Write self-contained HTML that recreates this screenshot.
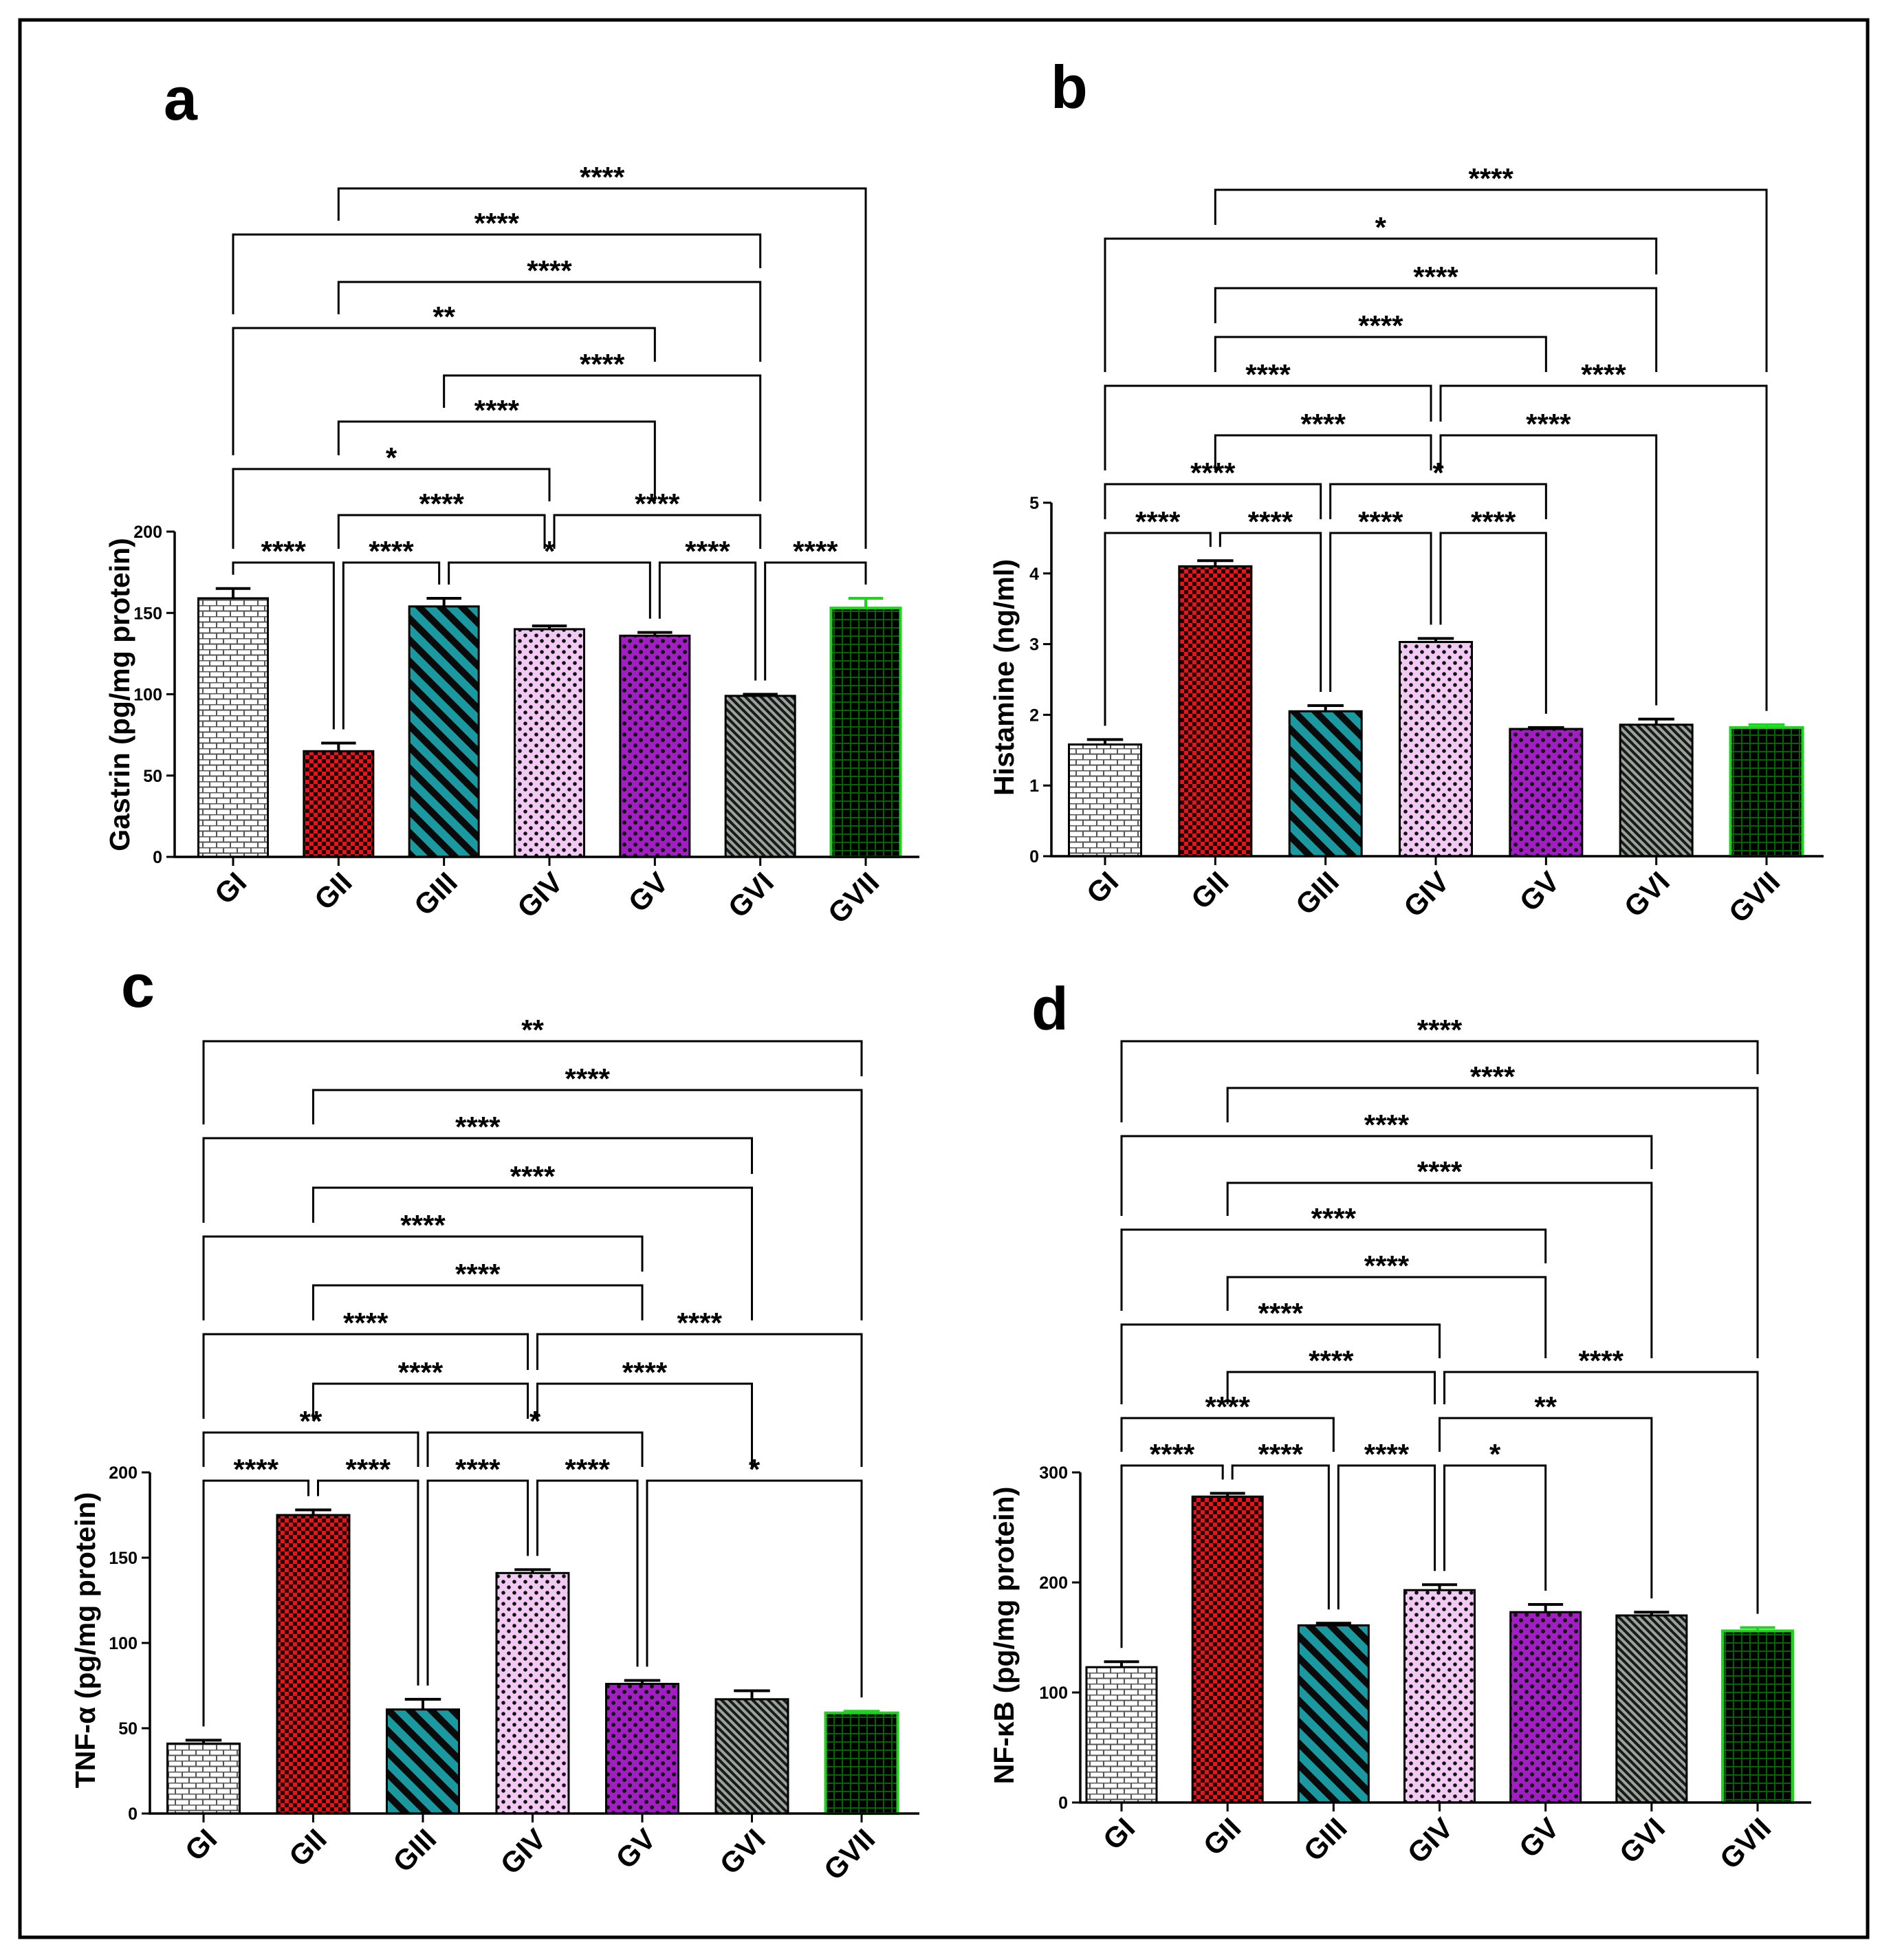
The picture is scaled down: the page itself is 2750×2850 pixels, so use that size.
<!DOCTYPE html>
<html><head><meta charset="utf-8"><style>
html,body{margin:0;padding:0;background:#fff}
svg{display:block}
text{font-family:"Liberation Sans",Arial,sans-serif;font-weight:bold;fill:#000}
</style></head><body>
<svg id="fig" xmlns="http://www.w3.org/2000/svg" width="2750" height="2850" viewBox="0 0 2750 2850">
<defs>
<pattern id="pGI" patternUnits="userSpaceOnUse" width="20" height="16"><rect width="20" height="16" fill="#fff"/><path d="M0 0.5H20M0 8.5H20M5 0V8M15 8V16" stroke="#555" stroke-width="2"/></pattern>
<pattern id="pGII" patternUnits="userSpaceOnUse" width="12" height="12"><rect width="12" height="12" fill="#e8141a"/><rect width="6" height="6" fill="#200"/><rect x="6" y="6" width="6" height="6" fill="#200"/></pattern>
<pattern id="pGIII" patternUnits="userSpaceOnUse" width="22" height="22" patternTransform="rotate(-45)"><rect width="22" height="22" fill="#1a9aa0"/><rect width="10" height="22" fill="#0a0a0a"/></pattern>
<pattern id="pGIV" patternUnits="userSpaceOnUse" width="16" height="16"><rect width="16" height="16" fill="#f2c9f2"/><circle cx="4" cy="4" r="2.8" fill="#111"/><circle cx="12" cy="12" r="2.8" fill="#111"/></pattern>
<pattern id="pGV" patternUnits="userSpaceOnUse" width="16" height="16"><rect width="16" height="16" fill="#a21ec4"/><circle cx="4" cy="4" r="3" fill="#111"/><circle cx="12" cy="12" r="3" fill="#111"/></pattern>
<pattern id="pGVI" patternUnits="userSpaceOnUse" width="8" height="8" patternTransform="rotate(-45)"><rect width="8" height="8" fill="#9aa39c"/><rect width="4" height="8" fill="#1a1a1a"/></pattern>
<pattern id="pGVII" patternUnits="userSpaceOnUse" width="12" height="12"><rect width="12" height="12" fill="#060"/><rect x="2" y="2" width="10" height="10" fill="#000"/></pattern>
</defs>
<rect x="29" y="29" width="2687" height="2788" fill="none" stroke="#000" stroke-width="5"/>
</svg>
<script>
const NS='http://www.w3.org/2000/svg';
const svg=document.getElementById('fig');
const groups=['GI','GII','GIII','GIV','GV','GVI','GVII'];
const fills=['url(#pGI)','url(#pGII)','url(#pGIII)','url(#pGIV)','url(#pGV)','url(#pGVI)','url(#pGVII)'];

// Panel a: Gastrin
const aMeans=[159,65,154,140,136,99,153];
const aErrors=[6,5,5,2,2,1,6];
const aTicks=[0,50,100,150,200];
const aBrackets=[[0,1,0,'****'],[1,2,0,'****'],[2,4,0,'*'],[4,5,0,'****'],[5,6,0,'****'],
 [1,3,1,'****'],[3,5,1,'****'],[0,3,2,'*'],[1,4,3,'****'],[2,5,4,'****'],[0,4,5,'**'],
 [1,5,6,'****'],[0,5,7,'****'],[1,6,8,'****']];
// Panel b: Histamine
const bMeans=[1.58,4.10,2.05,3.03,1.80,1.86,1.82];
const bErrors=[0.07,0.08,0.08,0.05,0.02,0.08,0.04];
const bTicks=[0,1,2,3,4,5];
const bBrackets=[[0,1,0,'****'],[1,2,0,'****'],[2,3,0,'****'],[3,4,0,'****'],
 [0,2,1,'****'],[2,4,1,'*'],[1,3,2,'****'],[3,5,2,'****'],[0,3,3,'****'],[3,6,3,'****'],
 [1,4,4,'****'],[1,5,5,'****'],[0,5,6,'*'],[1,6,7,'****']];
// Panel c: TNF-alpha
const cMeans=[41,175,61,141,76,67,59];
const cErrors=[2,3,6,2,2,5,1];
const cTicks=[0,50,100,150,200];
const cBrackets=[[0,1,0,'****'],[1,2,0,'****'],[2,3,0,'****'],[3,4,0,'****'],[4,6,0,'*'],
 [0,2,1,'**'],[2,4,1,'*'],[1,3,2,'****'],[3,5,2,'****'],[0,3,3,'****'],[3,6,3,'****'],
 [1,4,4,'****'],[0,4,5,'****'],[1,5,6,'****'],[0,5,7,'****'],[1,6,8,'****'],[0,6,9,'**']];
// Panel d: NF-kB
const dMeans=[123,278,161,193,173,170,156];
const dErrors=[5,3,2,5,7,3,3];
const dTicks=[0,100,200,300];
const dBrackets=[[0,1,0,'****'],[1,2,0,'****'],[2,3,0,'****'],[3,4,0,'*'],
 [0,2,1,'****'],[3,5,1,'**'],[1,3,2,'****'],[3,6,2,'****'],[0,3,3,'****'],[1,4,4,'****'],
 [0,4,5,'****'],[1,5,6,'****'],[0,5,7,'****'],[1,6,8,'****'],[0,6,9,'****']];

function mk(tag,attrs,parent){const e=document.createElementNS(NS,tag);for(const k in attrs)e.setAttribute(k,attrs[k]);(parent||svg).appendChild(e);return e;}

function panel(p){
  const g=mk('g',{});
  
  
  const band=(p.lastX-p.firstX)/6;
  const xS=i=>p.firstX+i*band;
  const yS=v=>p.y0-(v/p.ymax)*(p.y0-p.yTop);
  const lt=mk('text',{x:p.lx,y:p.ly,'font-size':88},g);lt.textContent=p.id;
  
  
  p.means.forEach((m,i)=>{
    const x=xS(i),top=yS(m);
    const r=mk('rect',{x:x-p.bw/2,y:top,width:p.bw,height:p.y0-top,fill:fills[i],stroke:i==6?'#1ed31e':'#000','stroke-width':i==6?4:3},g);
    
    
    const et=yS(m+p.errs[i]);
    const eb=mk('path',{d:`M${x} ${top}V${et}M${x-p.bw*0.25} ${et}H${x+p.bw*0.25}`,stroke:i==6?'#1ed31e':'#000','stroke-width':4,fill:'none'},g);
    
    
  });
  const ax=mk('path',{d:`M${p.axX} ${yS(p.ticks[p.ticks.length-1])}V${p.y0}H${p.axEnd}`,stroke:'#000','stroke-width':3.5,fill:'none'},g);
  
  
  p.ticks.forEach(t=>{
    const y=yS(t);
    mk('path',{d:`M${p.axX-12} ${y}H${p.axX}`,stroke:'#000','stroke-width':3},g);
    const tx=mk('text',{x:p.axX-18,y:y+9,'font-size':25,'text-anchor':'end'},g);tx.textContent=t;
    
    
  });
  groups.forEach((n,i)=>{
    const x=xS(i);
    mk('path',{d:`M${x} ${p.y0}V${p.y0+13}`,stroke:'#000','stroke-width':3},g);
    const tx=mk('text',{x:x+22,y:p.y0+40,'font-size':42,'text-anchor':'end',transform:`rotate(-45 ${x+22} ${p.y0+40})`},g);tx.textContent=n;
    
    
  });
  const yt=mk('text',{x:p.tx,y:p.ty,'font-size':41,'text-anchor':'middle',transform:`rotate(-90 ${p.tx} ${p.ty})`},g);yt.textContent=p.title;
  
  
  const br=p.brackets;
  br.forEach(b=>{
    const [i,j,lv,lab]=b;const y=p.levels[lv];
    const shL=br.some(o=>o!==b&&o[2]===lv&&o[1]===i);
    const shR=br.some(o=>o!==b&&o[2]===lv&&o[0]===j);
    const xl=xS(i)+(shL?7:0), xr=xS(j)-(shR?7:0);
    function legEnd(k){
      let best=null;
      br.forEach(o=>{const yy=p.levels[o[2]];if(yy>y&&o[0]<=k&&o[1]>=k){if(best===null||yy<best)best=yy;}});
      if(best===null)best=yS(p.means[k]+p.errs[k]);
      return best-20;
    }
    const pa=mk('path',{d:`M${xl} ${legEnd(i)}V${y}H${xr}V${legEnd(j)}`,stroke:'#000','stroke-width':3,fill:'none'},g);
    
    
    const st=mk('text',{x:(xl+xr)/2,y:y-2,'font-size':42,'text-anchor':'middle'},g);st.textContent=lab;
    
    
  });
}

panel({id:'a',means:aMeans,errs:aErrors,ticks:aTicks,brackets:aBrackets,ymax:200,y0:1246,yTop:773,
  firstX:339,lastX:1259,bw:101,axX:254,axEnd:1337,lx:238,ly:174,tx:188,ty:1010,title:'Gastrin (pg/mg protein)',
  levels:[818,749,682,613,546,477,410,341,274]});
panel({id:'b',means:bMeans,errs:bErrors,ticks:bTicks,brackets:bBrackets,ymax:5,y0:1245,yTop:731,
  firstX:1607,lastX:2569,bw:105,axX:1529,axEnd:2652,lx:1528,ly:157,tx:1474,ty:985,title:'Histamine (ng/ml)',
  levels:[775,704,633,561,490,419,347,276]});
panel({id:'c',means:cMeans,errs:cErrors,ticks:cTicks,brackets:cBrackets,ymax:200,y0:2637,yTop:2141,
  firstX:296,lastX:1253,bw:105,axX:218,axEnd:1337,lx:176,ly:1464,tx:138,ty:2385,title:'TNF-α (pg/mg protein)',
  levels:[2153,2083,2012,1940,1869,1798,1727,1655,1585,1514]});
panel({id:'d',means:dMeans,errs:dErrors,ticks:dTicks,brackets:dBrackets,ymax:300,y0:2621,yTop:2141,
  firstX:1631,lastX:2556,bw:102,axX:1571,axEnd:2634,lx:1500,ly:1497,tx:1474,ty:2378,title:'NF-κB (pg/mg protein)',
  levels:[2131,2062,1995,1926,1857,1788,1720,1652,1582,1514]});
</script>
</body></html>
